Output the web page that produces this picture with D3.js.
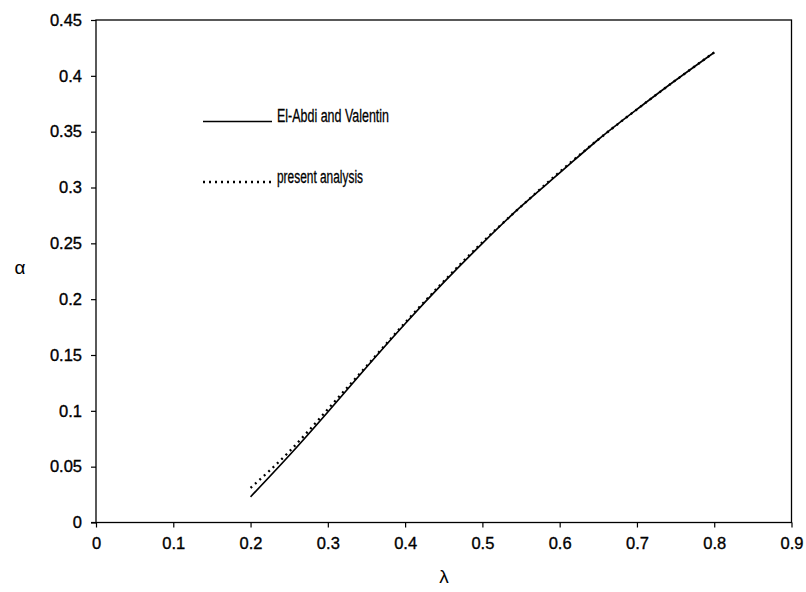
<!DOCTYPE html>
<html>
<head>
<meta charset="utf-8">
<script src="https://cdn.jsdelivr.net/npm/d3@7"></script>
<style>
  body { margin: 0; background: #fff; }
  svg { display: block; font-family: "Liberation Sans", Arial, sans-serif; }
</style>
</head>
<body>
<svg id="chart" width="806" height="592"></svg>
<script>
// data
const lambdaVals   = [0.2, 0.25, 0.3, 0.35, 0.4, 0.45, 0.5, 0.55, 0.6, 0.65, 0.7, 0.75, 0.8];
const abdiAlpha    = [0.023, 0.060, 0.099, 0.139, 0.178, 0.215, 0.250, 0.283, 0.313, 0.343, 0.370, 0.396, 0.421];
const presentAlpha = [0.031, 0.0635, 0.1015, 0.140, 0.179, 0.216, 0.251, 0.283, 0.314, 0.343, 0.370, 0.396, 0.421];
const xTicks = [0, 0.1, 0.2, 0.3, 0.4, 0.5, 0.6, 0.7, 0.8, 0.9];
const yTicks = [0, 0.05, 0.1, 0.15, 0.2, 0.25, 0.3, 0.35, 0.4, 0.45];
const seriesNames = ["El-Abdi and Valentin", "present analysis"];

const svg = d3.select('#chart');

const x = d3.scaleLinear().domain([0, 0.9]).range([96, 791.5]);
const y = d3.scaleLinear().domain([0, 0.45]).range([522.5, 20]);

const fmt = d => String(+d.toFixed(2));

// y axis
const yAxis = svg.append("g")
    .attr("transform", `translate(${x(0)},0)`)
    .call(d3.axisLeft(y).tickValues(yTicks).tickFormat(fmt).tickSize(5).tickPadding(9));
yAxis.select(".domain").remove();
yAxis.selectAll("line").attr("stroke", "#000").attr("stroke-width", 1.2);
yAxis.selectAll("text").attr("font-size", 16.5).attr("fill", "#000")
    .attr("stroke", "#000").attr("stroke-width", 0.35)
    .attr("font-family", "Liberation Sans, Arial, sans-serif");

// x axis
const xAxis = svg.append("g")
    .attr("transform", `translate(0,${y(0)})`)
    .call(d3.axisBottom(x).tickValues(xTicks).tickFormat(fmt).tickSize(5).tickPadding(10));
xAxis.select(".domain").remove();
xAxis.selectAll("line").attr("stroke", "#000").attr("stroke-width", 1.2);
xAxis.selectAll("text").attr("font-size", 16.5).attr("fill", "#000")
    .attr("stroke", "#000").attr("stroke-width", 0.35)
    .attr("font-family", "Liberation Sans, Arial, sans-serif");

// frame
svg.append("rect")
    .attr("x", x(0)).attr("y", y(0.45))
    .attr("width", x(0.9) - x(0)).attr("height", y(0) - y(0.45))
    .attr("fill", "none").attr("stroke", "#000").attr("stroke-width", 1.3);

// zero line stub left of the axis
svg.append("line")
    .attr("x1", x(0) - 5).attr("x2", x(0))
    .attr("y1", y(0)).attr("y2", y(0))
    .attr("stroke", "#000").attr("stroke-width", 1.2);

// curves
const line = d3.line()
    .x(d => x(d[0]))
    .y(d => y(d[1]))
    .curve(d3.curveNatural);

svg.append("path")
    .datum(d3.zip(lambdaVals, abdiAlpha))
    .attr("d", line)
    .attr("fill", "none")
    .attr("stroke", "#000")
    .attr("stroke-width", 1.7);

svg.append("path")
    .datum(d3.zip(lambdaVals, presentAlpha))
    .attr("d", line)
    .attr("fill", "none")
    .attr("stroke", "#000")
    .attr("stroke-width", 2.3)
    .attr("stroke-dasharray", "2,4");

// legend
const legend = svg.append("g");
const legendRows = [
    {name: seriesNames[0], y: 121.5, dash: null, width: 1.7, textLen: 112},
    {name: seriesNames[1], y: 182, dash: "2,4", width: 2.3, textLen: 86}
];
legendRows.forEach(r => {
    legend.append("line")
        .attr("x1", 203).attr("x2", 272)
        .attr("y1", r.y).attr("y2", r.y)
        .attr("stroke", "#000")
        .attr("stroke-width", r.width)
        .attr("stroke-dasharray", r.dash);
    legend.append("text")
        .attr("x", 277).attr("y", r.y + 0.5)
        .attr("font-size", 18)
        .attr("textLength", r.textLen)
        .attr("lengthAdjust", "spacingAndGlyphs")
        .attr("fill", "#000")
        .attr("stroke", "#000").attr("stroke-width", 0.3)
        .text(r.name);
});

// axis titles
svg.append("text")
    .attr("x", 20).attr("y", 274)
    .attr("text-anchor", "middle")
    .attr("font-size", 19)
    .text("α");
svg.append("text")
    .attr("x", 444).attr("y", 583)
    .attr("text-anchor", "middle")
    .attr("font-size", 19)
    .text("λ");
</script>
</body>
</html>
